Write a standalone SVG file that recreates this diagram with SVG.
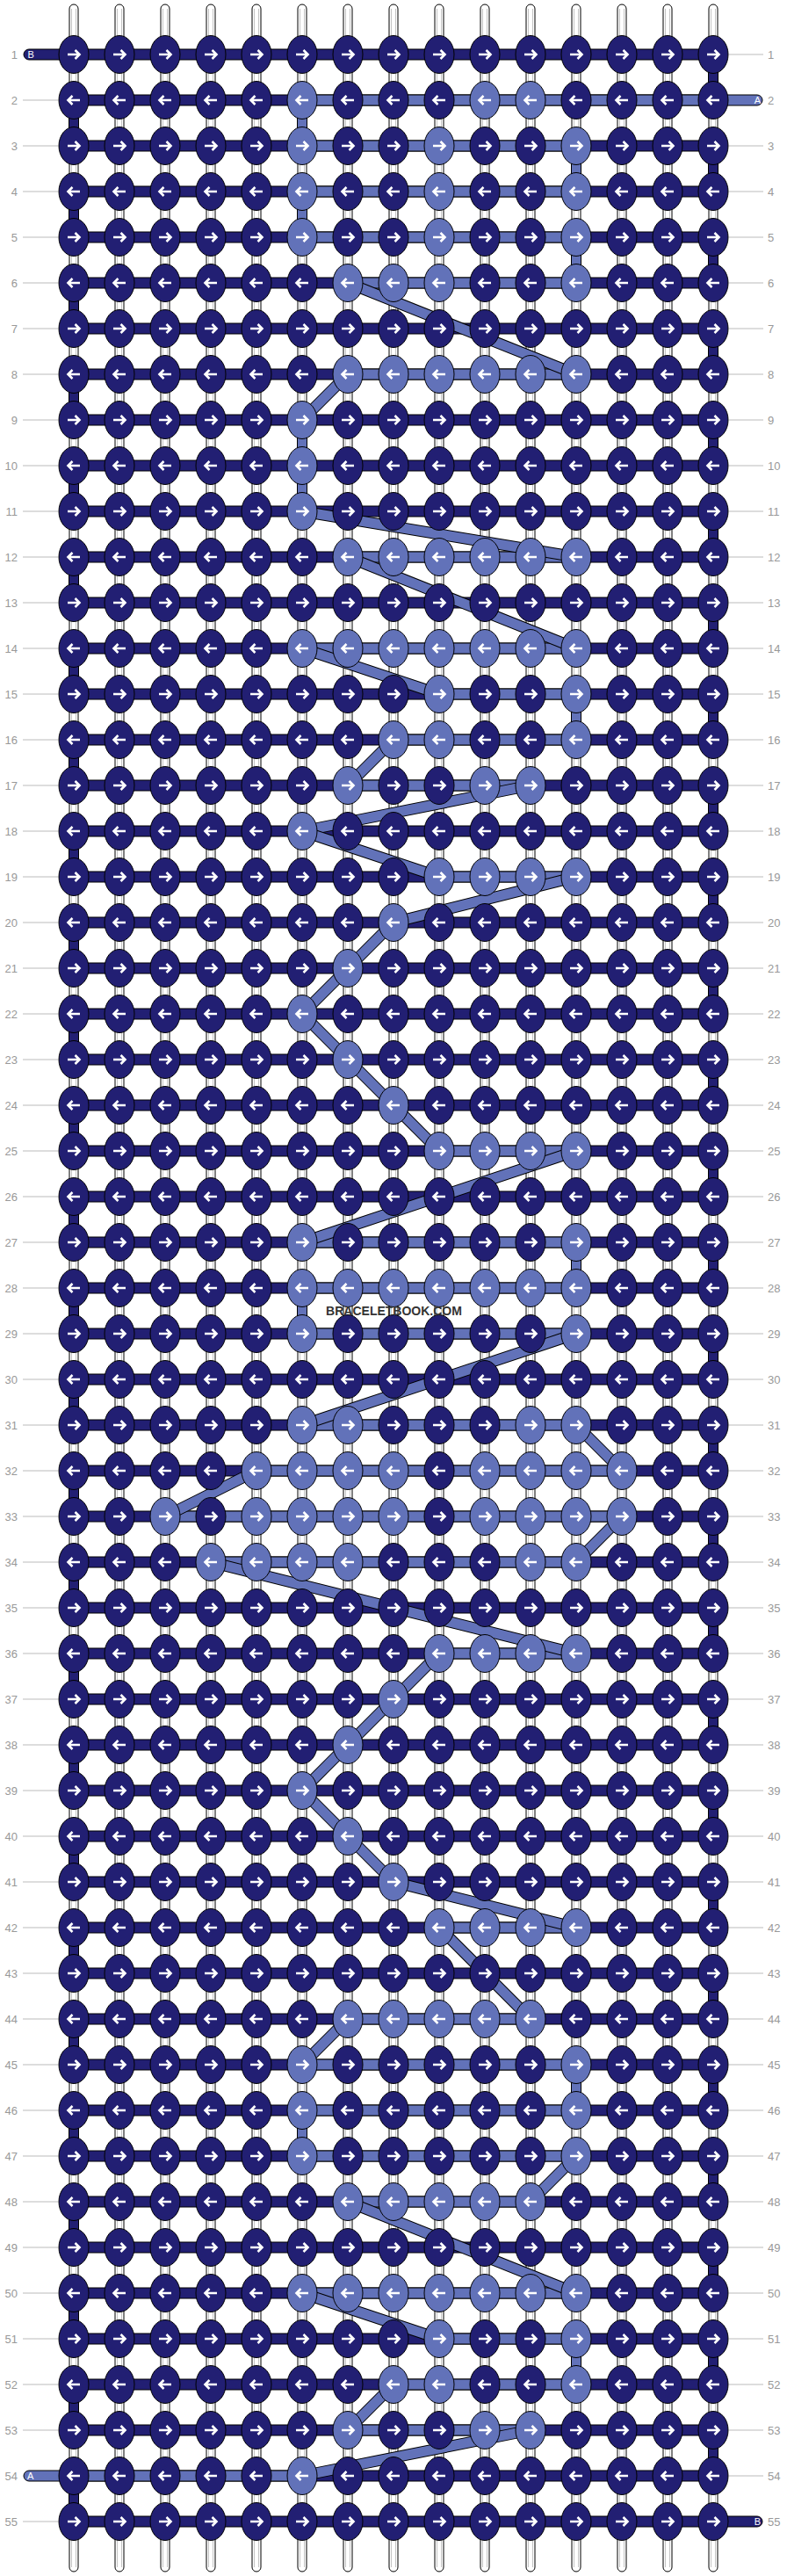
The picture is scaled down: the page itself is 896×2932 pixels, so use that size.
<svg xmlns="http://www.w3.org/2000/svg" width="896" height="2932" viewBox="0 0 896 2932">
<style>
.st{fill:#fff;stroke:#000;stroke-width:1}
.sg{fill:none;stroke:#c4c4c4;stroke-width:1}
.hd{fill:#221f73;stroke:#000;stroke-width:1}
.hl{fill:#6272b9;stroke:#000;stroke-width:1}
.vo{stroke:#000;stroke-width:12;stroke-dasharray:52 52}
.vd{stroke:#221f73;stroke-width:10;stroke-dasharray:52 52}
.do{stroke:#000;stroke-width:13}
.di{stroke:#6272b9;stroke-width:11}
.kd{fill:#221f73;stroke:#000;stroke-width:1}
.kl{fill:#6272b9;stroke:#000;stroke-width:1}
.ar{fill:none;stroke:#fff;stroke-width:2.6}
.lb{font-family:"Liberation Sans",Arial,sans-serif;font-size:13px;fill:#999}
.le{text-anchor:end}
.ll{fill:none;stroke:#bbb;stroke-width:1}
.pt{font-family:"Liberation Sans",Arial,sans-serif;font-size:11px;fill:#fff}
.wm{font-family:"Liberation Sans",Arial,sans-serif;font-size:14px;font-weight:bold;fill:#333;text-anchor:middle}
</style>
<defs>
<g id="dr"><ellipse class="kd" rx="17" ry="21.5"/><path class="ar" d="M-7,0H6.5M1.5,-5L6.5,0L1.5,5"/></g>
<g id="dl"><ellipse class="kd" rx="17" ry="21.5"/><path class="ar" d="M7,0H-6.5M-1.5,-5L-6.5,0L-1.5,5"/></g>
<g id="lr"><ellipse class="kl" rx="17" ry="21.5"/><path class="ar" d="M-7,0H6.5M1.5,-5L6.5,0L1.5,5"/></g>
<g id="ll"><ellipse class="kl" rx="17" ry="21.5"/><path class="ar" d="M7,0H-6.5M-1.5,-5L-6.5,0L-1.5,5"/></g>
</defs>
<rect width="896" height="2932" fill="#fff"/>
<g id="strings">
<rect class="st" x="79" y="5" width="10" height="2922" rx="5"/><rect class="st" x="131" y="5" width="10" height="2922" rx="5"/><rect class="st" x="183" y="5" width="10" height="2922" rx="5"/><rect class="st" x="235" y="5" width="10" height="2922" rx="5"/><rect class="st" x="287" y="5" width="10" height="2922" rx="5"/><rect class="st" x="339" y="5" width="10" height="2922" rx="5"/><rect class="st" x="391" y="5" width="10" height="2922" rx="5"/><rect class="st" x="443" y="5" width="10" height="2922" rx="5"/><rect class="st" x="495" y="5" width="10" height="2922" rx="5"/><rect class="st" x="547" y="5" width="10" height="2922" rx="5"/><rect class="st" x="599" y="5" width="10" height="2922" rx="5"/><rect class="st" x="651" y="5" width="10" height="2922" rx="5"/><rect class="st" x="703" y="5" width="10" height="2922" rx="5"/><rect class="st" x="755" y="5" width="10" height="2922" rx="5"/><rect class="st" x="807" y="5" width="10" height="2922" rx="5"/>
<path class="sg" d="M81.5,10V2922M86.5,10V2922M133.5,10V2922M138.5,10V2922M185.5,10V2922M190.5,10V2922M237.5,10V2922M242.5,10V2922M289.5,10V2922M294.5,10V2922M341.5,10V2922M346.5,10V2922M393.5,10V2922M398.5,10V2922M445.5,10V2922M450.5,10V2922M497.5,10V2922M502.5,10V2922M549.5,10V2922M554.5,10V2922M601.5,10V2922M606.5,10V2922M653.5,10V2922M658.5,10V2922M705.5,10V2922M710.5,10V2922M757.5,10V2922M762.5,10V2922M809.5,10V2922M814.5,10V2922"/>
</g>
<g id="connectors">
<g id="strand-B-rows">
<rect class="hd" x="27" y="56" width="785" height="12" rx="6"/>
<rect class="hd" x="84" y="108" width="728" height="12"/><rect class="hd" x="84" y="160" width="728" height="12"/><rect class="hd" x="84" y="212" width="728" height="12"/><rect class="hd" x="84" y="264" width="728" height="12"/><rect class="hd" x="84" y="316" width="728" height="12"/><rect class="hd" x="84" y="368" width="728" height="12"/><rect class="hd" x="84" y="420" width="728" height="12"/><rect class="hd" x="84" y="472" width="728" height="12"/><rect class="hd" x="84" y="524" width="728" height="12"/><rect class="hd" x="84" y="576" width="728" height="12"/><rect class="hd" x="84" y="628" width="728" height="12"/><rect class="hd" x="84" y="680" width="728" height="12"/><rect class="hd" x="84" y="732" width="728" height="12"/><rect class="hd" x="84" y="784" width="728" height="12"/><rect class="hd" x="84" y="836" width="728" height="12"/><rect class="hd" x="84" y="888" width="728" height="12"/><rect class="hd" x="84" y="940" width="728" height="12"/><rect class="hd" x="84" y="992" width="728" height="12"/><rect class="hd" x="84" y="1044" width="728" height="12"/><rect class="hd" x="84" y="1096" width="728" height="12"/><rect class="hd" x="84" y="1148" width="728" height="12"/><rect class="hd" x="84" y="1200" width="728" height="12"/><rect class="hd" x="84" y="1252" width="728" height="12"/><rect class="hd" x="84" y="1304" width="728" height="12"/><rect class="hd" x="84" y="1356" width="728" height="12"/><rect class="hd" x="84" y="1408" width="728" height="12"/><rect class="hd" x="84" y="1460" width="728" height="12"/><rect class="hd" x="84" y="1512" width="728" height="12"/><rect class="hd" x="84" y="1564" width="728" height="12"/><rect class="hd" x="84" y="1616" width="728" height="12"/><rect class="hd" x="84" y="1668" width="728" height="12"/><rect class="hd" x="84" y="1720" width="728" height="12"/><rect class="hd" x="84" y="1772" width="728" height="12"/><rect class="hd" x="84" y="1824" width="728" height="12"/><rect class="hd" x="84" y="1876" width="728" height="12"/><rect class="hd" x="84" y="1928" width="728" height="12"/><rect class="hd" x="84" y="1980" width="728" height="12"/><rect class="hd" x="84" y="2032" width="728" height="12"/><rect class="hd" x="84" y="2084" width="728" height="12"/><rect class="hd" x="84" y="2136" width="728" height="12"/><rect class="hd" x="84" y="2188" width="728" height="12"/><rect class="hd" x="84" y="2240" width="728" height="12"/><rect class="hd" x="84" y="2292" width="728" height="12"/><rect class="hd" x="84" y="2344" width="728" height="12"/><rect class="hd" x="84" y="2396" width="728" height="12"/><rect class="hd" x="84" y="2448" width="728" height="12"/><rect class="hd" x="84" y="2500" width="728" height="12"/><rect class="hd" x="84" y="2552" width="728" height="12"/><rect class="hd" x="84" y="2604" width="728" height="12"/><rect class="hd" x="84" y="2656" width="728" height="12"/><rect class="hd" x="84" y="2708" width="728" height="12"/><rect class="hd" x="84" y="2760" width="728" height="12"/><rect class="hd" x="84" y="2812" width="728" height="12"/>
<rect class="hd" x="84" y="2864" width="784" height="12" rx="6"/>
</g>
<g id="strand-A-rows">
<rect class="hl" x="344" y="108" width="524" height="12" rx="6"/>
<rect class="hl" x="344" y="160" width="312" height="12"/>
<rect class="hl" x="344" y="212" width="312" height="12"/>
<rect class="hl" x="344" y="264" width="312" height="12"/>
<rect class="hl" x="396" y="316" width="260" height="12"/>
<rect class="hl" x="396" y="420" width="260" height="12"/>
<rect class="hl" x="396" y="628" width="260" height="12"/>
<rect class="hl" x="344" y="732" width="312" height="12"/>
<rect class="hl" x="500" y="784" width="156" height="12"/>
<rect class="hl" x="448" y="836" width="208" height="12"/>
<rect class="hl" x="396" y="888" width="208" height="12"/>
<rect class="hl" x="500" y="992" width="156" height="12"/>
<rect class="hl" x="500" y="1304" width="156" height="12"/>
<rect class="hl" x="344" y="1408" width="312" height="12"/>
<rect class="hl" x="344" y="1460" width="312" height="12"/>
<rect class="hl" x="344" y="1512" width="312" height="12"/>
<rect class="hl" x="344" y="1616" width="312" height="12"/>
<rect class="hl" x="292" y="1668" width="416" height="12"/>
<rect class="hl" x="188" y="1720" width="520" height="12"/>
<rect class="hl" x="240" y="1772" width="416" height="12"/>
<rect class="hl" x="500" y="1876" width="156" height="12"/>
<rect class="hl" x="500" y="2188" width="156" height="12"/>
<rect class="hl" x="396" y="2292" width="208" height="12"/>
<rect class="hl" x="344" y="2344" width="312" height="12"/>
<rect class="hl" x="344" y="2396" width="312" height="12"/>
<rect class="hl" x="344" y="2448" width="312" height="12"/>
<rect class="hl" x="396" y="2500" width="208" height="12"/>
<rect class="hl" x="344" y="2604" width="312" height="12"/>
<rect class="hl" x="500" y="2656" width="156" height="12"/>
<rect class="hl" x="448" y="2708" width="208" height="12"/>
<rect class="hl" x="396" y="2760" width="208" height="12"/>
<rect class="hl" x="27" y="2812" width="317" height="12" rx="6"/>
</g>
<g id="strand-B-turns">
<line class="vo" x1="812" y1="62" x2="812" y2="2818"/><line class="vd" x1="812" y1="62" x2="812" y2="2818"/>
<line class="vo" x1="84" y1="114" x2="84" y2="2870"/><line class="vd" x1="84" y1="114" x2="84" y2="2870"/>
</g>
<g id="strand-A-turns">
<rect class="hl" x="338.5" y="114" width="11" height="52"/>
<rect class="hl" x="650.5" y="166" width="11" height="52"/>
<rect class="hl" x="338.5" y="218" width="11" height="52"/>
<rect class="hl" x="650.5" y="270" width="11" height="52"/>
<rect class="hl" x="338.5" y="478" width="11" height="52"/>
<rect class="hl" x="338.5" y="530" width="11" height="52"/>
<rect class="hl" x="650.5" y="790" width="11" height="52"/>
<rect class="hl" x="650.5" y="1414" width="11" height="52"/>
<rect class="hl" x="338.5" y="1466" width="11" height="52"/>
<rect class="hl" x="650.5" y="2350" width="11" height="52"/>
<rect class="hl" x="338.5" y="2402" width="11" height="52"/>
<rect class="hl" x="650.5" y="2662" width="11" height="52"/>
</g>
<g id="strand-A-jumps">
<line class="do" x1="396" y1="322" x2="656" y2="426"/><line class="di" x1="396" y1="322" x2="656" y2="426"/>
<line class="do" x1="396" y1="426" x2="344" y2="478"/><line class="di" x1="396" y1="426" x2="344" y2="478"/>
<line class="do" x1="344" y1="582" x2="656" y2="634"/><line class="di" x1="344" y1="582" x2="656" y2="634"/>
<line class="do" x1="396" y1="634" x2="656" y2="738"/><line class="di" x1="396" y1="634" x2="656" y2="738"/>
<line class="do" x1="344" y1="738" x2="500" y2="790"/><line class="di" x1="344" y1="738" x2="500" y2="790"/>
<line class="do" x1="448" y1="842" x2="396" y2="894"/><line class="di" x1="448" y1="842" x2="396" y2="894"/>
<line class="do" x1="604" y1="894" x2="344" y2="946"/><line class="di" x1="604" y1="894" x2="344" y2="946"/>
<line class="do" x1="344" y1="946" x2="500" y2="998"/><line class="di" x1="344" y1="946" x2="500" y2="998"/>
<line class="do" x1="656" y1="998" x2="448" y2="1050"/><line class="di" x1="656" y1="998" x2="448" y2="1050"/>
<line class="do" x1="448" y1="1050" x2="396" y2="1102"/><line class="di" x1="448" y1="1050" x2="396" y2="1102"/>
<line class="do" x1="396" y1="1102" x2="344" y2="1154"/><line class="di" x1="396" y1="1102" x2="344" y2="1154"/>
<line class="do" x1="344" y1="1154" x2="396" y2="1206"/><line class="di" x1="344" y1="1154" x2="396" y2="1206"/>
<line class="do" x1="396" y1="1206" x2="448" y2="1258"/><line class="di" x1="396" y1="1206" x2="448" y2="1258"/>
<line class="do" x1="448" y1="1258" x2="500" y2="1310"/><line class="di" x1="448" y1="1258" x2="500" y2="1310"/>
<line class="do" x1="656" y1="1310" x2="344" y2="1414"/><line class="di" x1="656" y1="1310" x2="344" y2="1414"/>
<line class="do" x1="656" y1="1518" x2="344" y2="1622"/><line class="di" x1="656" y1="1518" x2="344" y2="1622"/>
<line class="do" x1="656" y1="1622" x2="708" y2="1674"/><line class="di" x1="656" y1="1622" x2="708" y2="1674"/>
<line class="do" x1="292" y1="1674" x2="188" y2="1726"/><line class="di" x1="292" y1="1674" x2="188" y2="1726"/>
<line class="do" x1="708" y1="1726" x2="656" y2="1778"/><line class="di" x1="708" y1="1726" x2="656" y2="1778"/>
<line class="do" x1="240" y1="1778" x2="656" y2="1882"/><line class="di" x1="240" y1="1778" x2="656" y2="1882"/>
<line class="do" x1="500" y1="1882" x2="448" y2="1934"/><line class="di" x1="500" y1="1882" x2="448" y2="1934"/>
<line class="do" x1="448" y1="1934" x2="396" y2="1986"/><line class="di" x1="448" y1="1934" x2="396" y2="1986"/>
<line class="do" x1="396" y1="1986" x2="344" y2="2038"/><line class="di" x1="396" y1="1986" x2="344" y2="2038"/>
<line class="do" x1="344" y1="2038" x2="396" y2="2090"/><line class="di" x1="344" y1="2038" x2="396" y2="2090"/>
<line class="do" x1="396" y1="2090" x2="448" y2="2142"/><line class="di" x1="396" y1="2090" x2="448" y2="2142"/>
<line class="do" x1="448" y1="2142" x2="656" y2="2194"/><line class="di" x1="448" y1="2142" x2="656" y2="2194"/>
<line class="do" x1="500" y1="2194" x2="604" y2="2298"/><line class="di" x1="500" y1="2194" x2="604" y2="2298"/>
<line class="do" x1="396" y1="2298" x2="344" y2="2350"/><line class="di" x1="396" y1="2298" x2="344" y2="2350"/>
<line class="do" x1="656" y1="2454" x2="604" y2="2506"/><line class="di" x1="656" y1="2454" x2="604" y2="2506"/>
<line class="do" x1="396" y1="2506" x2="656" y2="2610"/><line class="di" x1="396" y1="2506" x2="656" y2="2610"/>
<line class="do" x1="344" y1="2610" x2="500" y2="2662"/><line class="di" x1="344" y1="2610" x2="500" y2="2662"/>
<line class="do" x1="448" y1="2714" x2="396" y2="2766"/><line class="di" x1="448" y1="2714" x2="396" y2="2766"/>
<line class="do" x1="604" y1="2766" x2="344" y2="2818"/><line class="di" x1="604" y1="2766" x2="344" y2="2818"/>
</g>
<text class="pt" x="31.5" y="66">B</text>
<text class="pt le" x="866" y="118">A</text>
<text class="pt" x="31" y="2822">A</text>
<text class="pt le" x="866" y="2874">B</text>
</g>
<g id="knots">
<g id="row1" transform="translate(0,62)"><path class="ll" d="M830,0H869"/><text class="lb le" x="20" y="4.5">1</text><text class="lb" x="874" y="4.5">1</text><use id="k1-1" href="#dr" x="84"/><use id="k1-2" href="#dr" x="136"/><use id="k1-3" href="#dr" x="188"/><use id="k1-4" href="#dr" x="240"/><use id="k1-5" href="#dr" x="292"/><use id="k1-6" href="#dr" x="344"/><use id="k1-7" href="#dr" x="396"/><use id="k1-8" href="#dr" x="448"/><use id="k1-9" href="#dr" x="500"/><use id="k1-10" href="#dr" x="552"/><use id="k1-11" href="#dr" x="604"/><use id="k1-12" href="#dr" x="656"/><use id="k1-13" href="#dr" x="708"/><use id="k1-14" href="#dr" x="760"/><use id="k1-15" href="#dr" x="812"/></g>
<g id="row2" transform="translate(0,114)"><path class="ll" d="M26,0H66"/><text class="lb le" x="20" y="4.5">2</text><text class="lb" x="874" y="4.5">2</text><use id="k2-1" href="#dl" x="84"/><use id="k2-2" href="#dl" x="136"/><use id="k2-3" href="#dl" x="188"/><use id="k2-4" href="#dl" x="240"/><use id="k2-5" href="#dl" x="292"/><use id="k2-6" href="#ll" x="344"/><use id="k2-7" href="#dl" x="396"/><use id="k2-8" href="#dl" x="448"/><use id="k2-9" href="#dl" x="500"/><use id="k2-10" href="#ll" x="552"/><use id="k2-11" href="#ll" x="604"/><use id="k2-12" href="#dl" x="656"/><use id="k2-13" href="#dl" x="708"/><use id="k2-14" href="#dl" x="760"/><use id="k2-15" href="#dl" x="812"/></g>
<g id="row3" transform="translate(0,166)"><path class="ll" d="M26,0H66M830,0H869"/><text class="lb le" x="20" y="4.5">3</text><text class="lb" x="874" y="4.5">3</text><use id="k3-1" href="#dr" x="84"/><use id="k3-2" href="#dr" x="136"/><use id="k3-3" href="#dr" x="188"/><use id="k3-4" href="#dr" x="240"/><use id="k3-5" href="#dr" x="292"/><use id="k3-6" href="#lr" x="344"/><use id="k3-7" href="#dr" x="396"/><use id="k3-8" href="#dr" x="448"/><use id="k3-9" href="#lr" x="500"/><use id="k3-10" href="#dr" x="552"/><use id="k3-11" href="#dr" x="604"/><use id="k3-12" href="#lr" x="656"/><use id="k3-13" href="#dr" x="708"/><use id="k3-14" href="#dr" x="760"/><use id="k3-15" href="#dr" x="812"/></g>
<g id="row4" transform="translate(0,218)"><path class="ll" d="M26,0H66M830,0H869"/><text class="lb le" x="20" y="4.5">4</text><text class="lb" x="874" y="4.5">4</text><use id="k4-1" href="#dl" x="84"/><use id="k4-2" href="#dl" x="136"/><use id="k4-3" href="#dl" x="188"/><use id="k4-4" href="#dl" x="240"/><use id="k4-5" href="#dl" x="292"/><use id="k4-6" href="#ll" x="344"/><use id="k4-7" href="#dl" x="396"/><use id="k4-8" href="#dl" x="448"/><use id="k4-9" href="#ll" x="500"/><use id="k4-10" href="#dl" x="552"/><use id="k4-11" href="#dl" x="604"/><use id="k4-12" href="#ll" x="656"/><use id="k4-13" href="#dl" x="708"/><use id="k4-14" href="#dl" x="760"/><use id="k4-15" href="#dl" x="812"/></g>
<g id="row5" transform="translate(0,270)"><path class="ll" d="M26,0H66M830,0H869"/><text class="lb le" x="20" y="4.5">5</text><text class="lb" x="874" y="4.5">5</text><use id="k5-1" href="#dr" x="84"/><use id="k5-2" href="#dr" x="136"/><use id="k5-3" href="#dr" x="188"/><use id="k5-4" href="#dr" x="240"/><use id="k5-5" href="#dr" x="292"/><use id="k5-6" href="#lr" x="344"/><use id="k5-7" href="#dr" x="396"/><use id="k5-8" href="#dr" x="448"/><use id="k5-9" href="#lr" x="500"/><use id="k5-10" href="#dr" x="552"/><use id="k5-11" href="#dr" x="604"/><use id="k5-12" href="#lr" x="656"/><use id="k5-13" href="#dr" x="708"/><use id="k5-14" href="#dr" x="760"/><use id="k5-15" href="#dr" x="812"/></g>
<g id="row6" transform="translate(0,322)"><path class="ll" d="M26,0H66M830,0H869"/><text class="lb le" x="20" y="4.5">6</text><text class="lb" x="874" y="4.5">6</text><use id="k6-1" href="#dl" x="84"/><use id="k6-2" href="#dl" x="136"/><use id="k6-3" href="#dl" x="188"/><use id="k6-4" href="#dl" x="240"/><use id="k6-5" href="#dl" x="292"/><use id="k6-6" href="#dl" x="344"/><use id="k6-7" href="#ll" x="396"/><use id="k6-8" href="#ll" x="448"/><use id="k6-9" href="#ll" x="500"/><use id="k6-10" href="#dl" x="552"/><use id="k6-11" href="#dl" x="604"/><use id="k6-12" href="#ll" x="656"/><use id="k6-13" href="#dl" x="708"/><use id="k6-14" href="#dl" x="760"/><use id="k6-15" href="#dl" x="812"/></g>
<g id="row7" transform="translate(0,374)"><path class="ll" d="M26,0H66M830,0H869"/><text class="lb le" x="20" y="4.5">7</text><text class="lb" x="874" y="4.5">7</text><use id="k7-1" href="#dr" x="84"/><use id="k7-2" href="#dr" x="136"/><use id="k7-3" href="#dr" x="188"/><use id="k7-4" href="#dr" x="240"/><use id="k7-5" href="#dr" x="292"/><use id="k7-6" href="#dr" x="344"/><use id="k7-7" href="#dr" x="396"/><use id="k7-8" href="#dr" x="448"/><use id="k7-9" href="#dr" x="500"/><use id="k7-10" href="#dr" x="552"/><use id="k7-11" href="#dr" x="604"/><use id="k7-12" href="#dr" x="656"/><use id="k7-13" href="#dr" x="708"/><use id="k7-14" href="#dr" x="760"/><use id="k7-15" href="#dr" x="812"/></g>
<g id="row8" transform="translate(0,426)"><path class="ll" d="M26,0H66M830,0H869"/><text class="lb le" x="20" y="4.5">8</text><text class="lb" x="874" y="4.5">8</text><use id="k8-1" href="#dl" x="84"/><use id="k8-2" href="#dl" x="136"/><use id="k8-3" href="#dl" x="188"/><use id="k8-4" href="#dl" x="240"/><use id="k8-5" href="#dl" x="292"/><use id="k8-6" href="#dl" x="344"/><use id="k8-7" href="#ll" x="396"/><use id="k8-8" href="#ll" x="448"/><use id="k8-9" href="#ll" x="500"/><use id="k8-10" href="#ll" x="552"/><use id="k8-11" href="#ll" x="604"/><use id="k8-12" href="#ll" x="656"/><use id="k8-13" href="#dl" x="708"/><use id="k8-14" href="#dl" x="760"/><use id="k8-15" href="#dl" x="812"/></g>
<g id="row9" transform="translate(0,478)"><path class="ll" d="M26,0H66M830,0H869"/><text class="lb le" x="20" y="4.5">9</text><text class="lb" x="874" y="4.5">9</text><use id="k9-1" href="#dr" x="84"/><use id="k9-2" href="#dr" x="136"/><use id="k9-3" href="#dr" x="188"/><use id="k9-4" href="#dr" x="240"/><use id="k9-5" href="#dr" x="292"/><use id="k9-6" href="#lr" x="344"/><use id="k9-7" href="#dr" x="396"/><use id="k9-8" href="#dr" x="448"/><use id="k9-9" href="#dr" x="500"/><use id="k9-10" href="#dr" x="552"/><use id="k9-11" href="#dr" x="604"/><use id="k9-12" href="#dr" x="656"/><use id="k9-13" href="#dr" x="708"/><use id="k9-14" href="#dr" x="760"/><use id="k9-15" href="#dr" x="812"/></g>
<g id="row10" transform="translate(0,530)"><path class="ll" d="M26,0H66M830,0H869"/><text class="lb le" x="20" y="4.5">10</text><text class="lb" x="874" y="4.5">10</text><use id="k10-1" href="#dl" x="84"/><use id="k10-2" href="#dl" x="136"/><use id="k10-3" href="#dl" x="188"/><use id="k10-4" href="#dl" x="240"/><use id="k10-5" href="#dl" x="292"/><use id="k10-6" href="#ll" x="344"/><use id="k10-7" href="#dl" x="396"/><use id="k10-8" href="#dl" x="448"/><use id="k10-9" href="#dl" x="500"/><use id="k10-10" href="#dl" x="552"/><use id="k10-11" href="#dl" x="604"/><use id="k10-12" href="#dl" x="656"/><use id="k10-13" href="#dl" x="708"/><use id="k10-14" href="#dl" x="760"/><use id="k10-15" href="#dl" x="812"/></g>
<g id="row11" transform="translate(0,582)"><path class="ll" d="M26,0H66M830,0H869"/><text class="lb le" x="20" y="4.5">11</text><text class="lb" x="874" y="4.5">11</text><use id="k11-1" href="#dr" x="84"/><use id="k11-2" href="#dr" x="136"/><use id="k11-3" href="#dr" x="188"/><use id="k11-4" href="#dr" x="240"/><use id="k11-5" href="#dr" x="292"/><use id="k11-6" href="#lr" x="344"/><use id="k11-7" href="#dr" x="396"/><use id="k11-8" href="#dr" x="448"/><use id="k11-9" href="#dr" x="500"/><use id="k11-10" href="#dr" x="552"/><use id="k11-11" href="#dr" x="604"/><use id="k11-12" href="#dr" x="656"/><use id="k11-13" href="#dr" x="708"/><use id="k11-14" href="#dr" x="760"/><use id="k11-15" href="#dr" x="812"/></g>
<g id="row12" transform="translate(0,634)"><path class="ll" d="M26,0H66M830,0H869"/><text class="lb le" x="20" y="4.5">12</text><text class="lb" x="874" y="4.5">12</text><use id="k12-1" href="#dl" x="84"/><use id="k12-2" href="#dl" x="136"/><use id="k12-3" href="#dl" x="188"/><use id="k12-4" href="#dl" x="240"/><use id="k12-5" href="#dl" x="292"/><use id="k12-6" href="#dl" x="344"/><use id="k12-7" href="#ll" x="396"/><use id="k12-8" href="#ll" x="448"/><use id="k12-9" href="#ll" x="500"/><use id="k12-10" href="#ll" x="552"/><use id="k12-11" href="#ll" x="604"/><use id="k12-12" href="#ll" x="656"/><use id="k12-13" href="#dl" x="708"/><use id="k12-14" href="#dl" x="760"/><use id="k12-15" href="#dl" x="812"/></g>
<g id="row13" transform="translate(0,686)"><path class="ll" d="M26,0H66M830,0H869"/><text class="lb le" x="20" y="4.5">13</text><text class="lb" x="874" y="4.5">13</text><use id="k13-1" href="#dr" x="84"/><use id="k13-2" href="#dr" x="136"/><use id="k13-3" href="#dr" x="188"/><use id="k13-4" href="#dr" x="240"/><use id="k13-5" href="#dr" x="292"/><use id="k13-6" href="#dr" x="344"/><use id="k13-7" href="#dr" x="396"/><use id="k13-8" href="#dr" x="448"/><use id="k13-9" href="#dr" x="500"/><use id="k13-10" href="#dr" x="552"/><use id="k13-11" href="#dr" x="604"/><use id="k13-12" href="#dr" x="656"/><use id="k13-13" href="#dr" x="708"/><use id="k13-14" href="#dr" x="760"/><use id="k13-15" href="#dr" x="812"/></g>
<g id="row14" transform="translate(0,738)"><path class="ll" d="M26,0H66M830,0H869"/><text class="lb le" x="20" y="4.5">14</text><text class="lb" x="874" y="4.5">14</text><use id="k14-1" href="#dl" x="84"/><use id="k14-2" href="#dl" x="136"/><use id="k14-3" href="#dl" x="188"/><use id="k14-4" href="#dl" x="240"/><use id="k14-5" href="#dl" x="292"/><use id="k14-6" href="#ll" x="344"/><use id="k14-7" href="#ll" x="396"/><use id="k14-8" href="#ll" x="448"/><use id="k14-9" href="#ll" x="500"/><use id="k14-10" href="#ll" x="552"/><use id="k14-11" href="#ll" x="604"/><use id="k14-12" href="#ll" x="656"/><use id="k14-13" href="#dl" x="708"/><use id="k14-14" href="#dl" x="760"/><use id="k14-15" href="#dl" x="812"/></g>
<g id="row15" transform="translate(0,790)"><path class="ll" d="M26,0H66M830,0H869"/><text class="lb le" x="20" y="4.5">15</text><text class="lb" x="874" y="4.5">15</text><use id="k15-1" href="#dr" x="84"/><use id="k15-2" href="#dr" x="136"/><use id="k15-3" href="#dr" x="188"/><use id="k15-4" href="#dr" x="240"/><use id="k15-5" href="#dr" x="292"/><use id="k15-6" href="#dr" x="344"/><use id="k15-7" href="#dr" x="396"/><use id="k15-8" href="#dr" x="448"/><use id="k15-9" href="#lr" x="500"/><use id="k15-10" href="#dr" x="552"/><use id="k15-11" href="#dr" x="604"/><use id="k15-12" href="#lr" x="656"/><use id="k15-13" href="#dr" x="708"/><use id="k15-14" href="#dr" x="760"/><use id="k15-15" href="#dr" x="812"/></g>
<g id="row16" transform="translate(0,842)"><path class="ll" d="M26,0H66M830,0H869"/><text class="lb le" x="20" y="4.5">16</text><text class="lb" x="874" y="4.5">16</text><use id="k16-1" href="#dl" x="84"/><use id="k16-2" href="#dl" x="136"/><use id="k16-3" href="#dl" x="188"/><use id="k16-4" href="#dl" x="240"/><use id="k16-5" href="#dl" x="292"/><use id="k16-6" href="#dl" x="344"/><use id="k16-7" href="#dl" x="396"/><use id="k16-8" href="#ll" x="448"/><use id="k16-9" href="#ll" x="500"/><use id="k16-10" href="#dl" x="552"/><use id="k16-11" href="#dl" x="604"/><use id="k16-12" href="#ll" x="656"/><use id="k16-13" href="#dl" x="708"/><use id="k16-14" href="#dl" x="760"/><use id="k16-15" href="#dl" x="812"/></g>
<g id="row17" transform="translate(0,894)"><path class="ll" d="M26,0H66M830,0H869"/><text class="lb le" x="20" y="4.5">17</text><text class="lb" x="874" y="4.5">17</text><use id="k17-1" href="#dr" x="84"/><use id="k17-2" href="#dr" x="136"/><use id="k17-3" href="#dr" x="188"/><use id="k17-4" href="#dr" x="240"/><use id="k17-5" href="#dr" x="292"/><use id="k17-6" href="#dr" x="344"/><use id="k17-7" href="#lr" x="396"/><use id="k17-8" href="#dr" x="448"/><use id="k17-9" href="#dr" x="500"/><use id="k17-10" href="#lr" x="552"/><use id="k17-11" href="#lr" x="604"/><use id="k17-12" href="#dr" x="656"/><use id="k17-13" href="#dr" x="708"/><use id="k17-14" href="#dr" x="760"/><use id="k17-15" href="#dr" x="812"/></g>
<g id="row18" transform="translate(0,946)"><path class="ll" d="M26,0H66M830,0H869"/><text class="lb le" x="20" y="4.5">18</text><text class="lb" x="874" y="4.5">18</text><use id="k18-1" href="#dl" x="84"/><use id="k18-2" href="#dl" x="136"/><use id="k18-3" href="#dl" x="188"/><use id="k18-4" href="#dl" x="240"/><use id="k18-5" href="#dl" x="292"/><use id="k18-6" href="#ll" x="344"/><use id="k18-7" href="#dl" x="396"/><use id="k18-8" href="#dl" x="448"/><use id="k18-9" href="#dl" x="500"/><use id="k18-10" href="#dl" x="552"/><use id="k18-11" href="#dl" x="604"/><use id="k18-12" href="#dl" x="656"/><use id="k18-13" href="#dl" x="708"/><use id="k18-14" href="#dl" x="760"/><use id="k18-15" href="#dl" x="812"/></g>
<g id="row19" transform="translate(0,998)"><path class="ll" d="M26,0H66M830,0H869"/><text class="lb le" x="20" y="4.5">19</text><text class="lb" x="874" y="4.5">19</text><use id="k19-1" href="#dr" x="84"/><use id="k19-2" href="#dr" x="136"/><use id="k19-3" href="#dr" x="188"/><use id="k19-4" href="#dr" x="240"/><use id="k19-5" href="#dr" x="292"/><use id="k19-6" href="#dr" x="344"/><use id="k19-7" href="#dr" x="396"/><use id="k19-8" href="#dr" x="448"/><use id="k19-9" href="#lr" x="500"/><use id="k19-10" href="#lr" x="552"/><use id="k19-11" href="#lr" x="604"/><use id="k19-12" href="#lr" x="656"/><use id="k19-13" href="#dr" x="708"/><use id="k19-14" href="#dr" x="760"/><use id="k19-15" href="#dr" x="812"/></g>
<g id="row20" transform="translate(0,1050)"><path class="ll" d="M26,0H66M830,0H869"/><text class="lb le" x="20" y="4.5">20</text><text class="lb" x="874" y="4.5">20</text><use id="k20-1" href="#dl" x="84"/><use id="k20-2" href="#dl" x="136"/><use id="k20-3" href="#dl" x="188"/><use id="k20-4" href="#dl" x="240"/><use id="k20-5" href="#dl" x="292"/><use id="k20-6" href="#dl" x="344"/><use id="k20-7" href="#dl" x="396"/><use id="k20-8" href="#ll" x="448"/><use id="k20-9" href="#dl" x="500"/><use id="k20-10" href="#dl" x="552"/><use id="k20-11" href="#dl" x="604"/><use id="k20-12" href="#dl" x="656"/><use id="k20-13" href="#dl" x="708"/><use id="k20-14" href="#dl" x="760"/><use id="k20-15" href="#dl" x="812"/></g>
<g id="row21" transform="translate(0,1102)"><path class="ll" d="M26,0H66M830,0H869"/><text class="lb le" x="20" y="4.5">21</text><text class="lb" x="874" y="4.5">21</text><use id="k21-1" href="#dr" x="84"/><use id="k21-2" href="#dr" x="136"/><use id="k21-3" href="#dr" x="188"/><use id="k21-4" href="#dr" x="240"/><use id="k21-5" href="#dr" x="292"/><use id="k21-6" href="#dr" x="344"/><use id="k21-7" href="#lr" x="396"/><use id="k21-8" href="#dr" x="448"/><use id="k21-9" href="#dr" x="500"/><use id="k21-10" href="#dr" x="552"/><use id="k21-11" href="#dr" x="604"/><use id="k21-12" href="#dr" x="656"/><use id="k21-13" href="#dr" x="708"/><use id="k21-14" href="#dr" x="760"/><use id="k21-15" href="#dr" x="812"/></g>
<g id="row22" transform="translate(0,1154)"><path class="ll" d="M26,0H66M830,0H869"/><text class="lb le" x="20" y="4.5">22</text><text class="lb" x="874" y="4.5">22</text><use id="k22-1" href="#dl" x="84"/><use id="k22-2" href="#dl" x="136"/><use id="k22-3" href="#dl" x="188"/><use id="k22-4" href="#dl" x="240"/><use id="k22-5" href="#dl" x="292"/><use id="k22-6" href="#ll" x="344"/><use id="k22-7" href="#dl" x="396"/><use id="k22-8" href="#dl" x="448"/><use id="k22-9" href="#dl" x="500"/><use id="k22-10" href="#dl" x="552"/><use id="k22-11" href="#dl" x="604"/><use id="k22-12" href="#dl" x="656"/><use id="k22-13" href="#dl" x="708"/><use id="k22-14" href="#dl" x="760"/><use id="k22-15" href="#dl" x="812"/></g>
<g id="row23" transform="translate(0,1206)"><path class="ll" d="M26,0H66M830,0H869"/><text class="lb le" x="20" y="4.5">23</text><text class="lb" x="874" y="4.5">23</text><use id="k23-1" href="#dr" x="84"/><use id="k23-2" href="#dr" x="136"/><use id="k23-3" href="#dr" x="188"/><use id="k23-4" href="#dr" x="240"/><use id="k23-5" href="#dr" x="292"/><use id="k23-6" href="#dr" x="344"/><use id="k23-7" href="#lr" x="396"/><use id="k23-8" href="#dr" x="448"/><use id="k23-9" href="#dr" x="500"/><use id="k23-10" href="#dr" x="552"/><use id="k23-11" href="#dr" x="604"/><use id="k23-12" href="#dr" x="656"/><use id="k23-13" href="#dr" x="708"/><use id="k23-14" href="#dr" x="760"/><use id="k23-15" href="#dr" x="812"/></g>
<g id="row24" transform="translate(0,1258)"><path class="ll" d="M26,0H66M830,0H869"/><text class="lb le" x="20" y="4.5">24</text><text class="lb" x="874" y="4.5">24</text><use id="k24-1" href="#dl" x="84"/><use id="k24-2" href="#dl" x="136"/><use id="k24-3" href="#dl" x="188"/><use id="k24-4" href="#dl" x="240"/><use id="k24-5" href="#dl" x="292"/><use id="k24-6" href="#dl" x="344"/><use id="k24-7" href="#dl" x="396"/><use id="k24-8" href="#ll" x="448"/><use id="k24-9" href="#dl" x="500"/><use id="k24-10" href="#dl" x="552"/><use id="k24-11" href="#dl" x="604"/><use id="k24-12" href="#dl" x="656"/><use id="k24-13" href="#dl" x="708"/><use id="k24-14" href="#dl" x="760"/><use id="k24-15" href="#dl" x="812"/></g>
<g id="row25" transform="translate(0,1310)"><path class="ll" d="M26,0H66M830,0H869"/><text class="lb le" x="20" y="4.5">25</text><text class="lb" x="874" y="4.5">25</text><use id="k25-1" href="#dr" x="84"/><use id="k25-2" href="#dr" x="136"/><use id="k25-3" href="#dr" x="188"/><use id="k25-4" href="#dr" x="240"/><use id="k25-5" href="#dr" x="292"/><use id="k25-6" href="#dr" x="344"/><use id="k25-7" href="#dr" x="396"/><use id="k25-8" href="#dr" x="448"/><use id="k25-9" href="#lr" x="500"/><use id="k25-10" href="#lr" x="552"/><use id="k25-11" href="#lr" x="604"/><use id="k25-12" href="#lr" x="656"/><use id="k25-13" href="#dr" x="708"/><use id="k25-14" href="#dr" x="760"/><use id="k25-15" href="#dr" x="812"/></g>
<g id="row26" transform="translate(0,1362)"><path class="ll" d="M26,0H66M830,0H869"/><text class="lb le" x="20" y="4.5">26</text><text class="lb" x="874" y="4.5">26</text><use id="k26-1" href="#dl" x="84"/><use id="k26-2" href="#dl" x="136"/><use id="k26-3" href="#dl" x="188"/><use id="k26-4" href="#dl" x="240"/><use id="k26-5" href="#dl" x="292"/><use id="k26-6" href="#dl" x="344"/><use id="k26-7" href="#dl" x="396"/><use id="k26-8" href="#dl" x="448"/><use id="k26-9" href="#dl" x="500"/><use id="k26-10" href="#dl" x="552"/><use id="k26-11" href="#dl" x="604"/><use id="k26-12" href="#dl" x="656"/><use id="k26-13" href="#dl" x="708"/><use id="k26-14" href="#dl" x="760"/><use id="k26-15" href="#dl" x="812"/></g>
<g id="row27" transform="translate(0,1414)"><path class="ll" d="M26,0H66M830,0H869"/><text class="lb le" x="20" y="4.5">27</text><text class="lb" x="874" y="4.5">27</text><use id="k27-1" href="#dr" x="84"/><use id="k27-2" href="#dr" x="136"/><use id="k27-3" href="#dr" x="188"/><use id="k27-4" href="#dr" x="240"/><use id="k27-5" href="#dr" x="292"/><use id="k27-6" href="#lr" x="344"/><use id="k27-7" href="#dr" x="396"/><use id="k27-8" href="#dr" x="448"/><use id="k27-9" href="#dr" x="500"/><use id="k27-10" href="#dr" x="552"/><use id="k27-11" href="#dr" x="604"/><use id="k27-12" href="#lr" x="656"/><use id="k27-13" href="#dr" x="708"/><use id="k27-14" href="#dr" x="760"/><use id="k27-15" href="#dr" x="812"/></g>
<g id="row28" transform="translate(0,1466)"><path class="ll" d="M26,0H66M830,0H869"/><text class="lb le" x="20" y="4.5">28</text><text class="lb" x="874" y="4.5">28</text><use id="k28-1" href="#dl" x="84"/><use id="k28-2" href="#dl" x="136"/><use id="k28-3" href="#dl" x="188"/><use id="k28-4" href="#dl" x="240"/><use id="k28-5" href="#dl" x="292"/><use id="k28-6" href="#ll" x="344"/><use id="k28-7" href="#ll" x="396"/><use id="k28-8" href="#ll" x="448"/><use id="k28-9" href="#ll" x="500"/><use id="k28-10" href="#ll" x="552"/><use id="k28-11" href="#ll" x="604"/><use id="k28-12" href="#ll" x="656"/><use id="k28-13" href="#dl" x="708"/><use id="k28-14" href="#dl" x="760"/><use id="k28-15" href="#dl" x="812"/></g>
<g id="row29" transform="translate(0,1518)"><path class="ll" d="M26,0H66M830,0H869"/><text class="lb le" x="20" y="4.5">29</text><text class="lb" x="874" y="4.5">29</text><use id="k29-1" href="#dr" x="84"/><use id="k29-2" href="#dr" x="136"/><use id="k29-3" href="#dr" x="188"/><use id="k29-4" href="#dr" x="240"/><use id="k29-5" href="#dr" x="292"/><use id="k29-6" href="#lr" x="344"/><use id="k29-7" href="#dr" x="396"/><use id="k29-8" href="#dr" x="448"/><use id="k29-9" href="#dr" x="500"/><use id="k29-10" href="#dr" x="552"/><use id="k29-11" href="#dr" x="604"/><use id="k29-12" href="#lr" x="656"/><use id="k29-13" href="#dr" x="708"/><use id="k29-14" href="#dr" x="760"/><use id="k29-15" href="#dr" x="812"/></g>
<g id="row30" transform="translate(0,1570)"><path class="ll" d="M26,0H66M830,0H869"/><text class="lb le" x="20" y="4.5">30</text><text class="lb" x="874" y="4.5">30</text><use id="k30-1" href="#dl" x="84"/><use id="k30-2" href="#dl" x="136"/><use id="k30-3" href="#dl" x="188"/><use id="k30-4" href="#dl" x="240"/><use id="k30-5" href="#dl" x="292"/><use id="k30-6" href="#dl" x="344"/><use id="k30-7" href="#dl" x="396"/><use id="k30-8" href="#dl" x="448"/><use id="k30-9" href="#dl" x="500"/><use id="k30-10" href="#dl" x="552"/><use id="k30-11" href="#dl" x="604"/><use id="k30-12" href="#dl" x="656"/><use id="k30-13" href="#dl" x="708"/><use id="k30-14" href="#dl" x="760"/><use id="k30-15" href="#dl" x="812"/></g>
<g id="row31" transform="translate(0,1622)"><path class="ll" d="M26,0H66M830,0H869"/><text class="lb le" x="20" y="4.5">31</text><text class="lb" x="874" y="4.5">31</text><use id="k31-1" href="#dr" x="84"/><use id="k31-2" href="#dr" x="136"/><use id="k31-3" href="#dr" x="188"/><use id="k31-4" href="#dr" x="240"/><use id="k31-5" href="#dr" x="292"/><use id="k31-6" href="#lr" x="344"/><use id="k31-7" href="#lr" x="396"/><use id="k31-8" href="#dr" x="448"/><use id="k31-9" href="#dr" x="500"/><use id="k31-10" href="#dr" x="552"/><use id="k31-11" href="#lr" x="604"/><use id="k31-12" href="#lr" x="656"/><use id="k31-13" href="#dr" x="708"/><use id="k31-14" href="#dr" x="760"/><use id="k31-15" href="#dr" x="812"/></g>
<g id="row32" transform="translate(0,1674)"><path class="ll" d="M26,0H66M830,0H869"/><text class="lb le" x="20" y="4.5">32</text><text class="lb" x="874" y="4.5">32</text><use id="k32-1" href="#dl" x="84"/><use id="k32-2" href="#dl" x="136"/><use id="k32-3" href="#dl" x="188"/><use id="k32-4" href="#dl" x="240"/><use id="k32-5" href="#ll" x="292"/><use id="k32-6" href="#ll" x="344"/><use id="k32-7" href="#ll" x="396"/><use id="k32-8" href="#ll" x="448"/><use id="k32-9" href="#dl" x="500"/><use id="k32-10" href="#ll" x="552"/><use id="k32-11" href="#ll" x="604"/><use id="k32-12" href="#ll" x="656"/><use id="k32-13" href="#ll" x="708"/><use id="k32-14" href="#dl" x="760"/><use id="k32-15" href="#dl" x="812"/></g>
<g id="row33" transform="translate(0,1726)"><path class="ll" d="M26,0H66M830,0H869"/><text class="lb le" x="20" y="4.5">33</text><text class="lb" x="874" y="4.5">33</text><use id="k33-1" href="#dr" x="84"/><use id="k33-2" href="#dr" x="136"/><use id="k33-3" href="#lr" x="188"/><use id="k33-4" href="#dr" x="240"/><use id="k33-5" href="#lr" x="292"/><use id="k33-6" href="#lr" x="344"/><use id="k33-7" href="#lr" x="396"/><use id="k33-8" href="#lr" x="448"/><use id="k33-9" href="#dr" x="500"/><use id="k33-10" href="#lr" x="552"/><use id="k33-11" href="#lr" x="604"/><use id="k33-12" href="#lr" x="656"/><use id="k33-13" href="#lr" x="708"/><use id="k33-14" href="#dr" x="760"/><use id="k33-15" href="#dr" x="812"/></g>
<g id="row34" transform="translate(0,1778)"><path class="ll" d="M26,0H66M830,0H869"/><text class="lb le" x="20" y="4.5">34</text><text class="lb" x="874" y="4.5">34</text><use id="k34-1" href="#dl" x="84"/><use id="k34-2" href="#dl" x="136"/><use id="k34-3" href="#dl" x="188"/><use id="k34-4" href="#ll" x="240"/><use id="k34-5" href="#ll" x="292"/><use id="k34-6" href="#ll" x="344"/><use id="k34-7" href="#ll" x="396"/><use id="k34-8" href="#dl" x="448"/><use id="k34-9" href="#dl" x="500"/><use id="k34-10" href="#dl" x="552"/><use id="k34-11" href="#ll" x="604"/><use id="k34-12" href="#ll" x="656"/><use id="k34-13" href="#dl" x="708"/><use id="k34-14" href="#dl" x="760"/><use id="k34-15" href="#dl" x="812"/></g>
<g id="row35" transform="translate(0,1830)"><path class="ll" d="M26,0H66M830,0H869"/><text class="lb le" x="20" y="4.5">35</text><text class="lb" x="874" y="4.5">35</text><use id="k35-1" href="#dr" x="84"/><use id="k35-2" href="#dr" x="136"/><use id="k35-3" href="#dr" x="188"/><use id="k35-4" href="#dr" x="240"/><use id="k35-5" href="#dr" x="292"/><use id="k35-6" href="#dr" x="344"/><use id="k35-7" href="#dr" x="396"/><use id="k35-8" href="#dr" x="448"/><use id="k35-9" href="#dr" x="500"/><use id="k35-10" href="#dr" x="552"/><use id="k35-11" href="#dr" x="604"/><use id="k35-12" href="#dr" x="656"/><use id="k35-13" href="#dr" x="708"/><use id="k35-14" href="#dr" x="760"/><use id="k35-15" href="#dr" x="812"/></g>
<g id="row36" transform="translate(0,1882)"><path class="ll" d="M26,0H66M830,0H869"/><text class="lb le" x="20" y="4.5">36</text><text class="lb" x="874" y="4.5">36</text><use id="k36-1" href="#dl" x="84"/><use id="k36-2" href="#dl" x="136"/><use id="k36-3" href="#dl" x="188"/><use id="k36-4" href="#dl" x="240"/><use id="k36-5" href="#dl" x="292"/><use id="k36-6" href="#dl" x="344"/><use id="k36-7" href="#dl" x="396"/><use id="k36-8" href="#dl" x="448"/><use id="k36-9" href="#ll" x="500"/><use id="k36-10" href="#ll" x="552"/><use id="k36-11" href="#ll" x="604"/><use id="k36-12" href="#ll" x="656"/><use id="k36-13" href="#dl" x="708"/><use id="k36-14" href="#dl" x="760"/><use id="k36-15" href="#dl" x="812"/></g>
<g id="row37" transform="translate(0,1934)"><path class="ll" d="M26,0H66M830,0H869"/><text class="lb le" x="20" y="4.5">37</text><text class="lb" x="874" y="4.5">37</text><use id="k37-1" href="#dr" x="84"/><use id="k37-2" href="#dr" x="136"/><use id="k37-3" href="#dr" x="188"/><use id="k37-4" href="#dr" x="240"/><use id="k37-5" href="#dr" x="292"/><use id="k37-6" href="#dr" x="344"/><use id="k37-7" href="#dr" x="396"/><use id="k37-8" href="#lr" x="448"/><use id="k37-9" href="#dr" x="500"/><use id="k37-10" href="#dr" x="552"/><use id="k37-11" href="#dr" x="604"/><use id="k37-12" href="#dr" x="656"/><use id="k37-13" href="#dr" x="708"/><use id="k37-14" href="#dr" x="760"/><use id="k37-15" href="#dr" x="812"/></g>
<g id="row38" transform="translate(0,1986)"><path class="ll" d="M26,0H66M830,0H869"/><text class="lb le" x="20" y="4.5">38</text><text class="lb" x="874" y="4.5">38</text><use id="k38-1" href="#dl" x="84"/><use id="k38-2" href="#dl" x="136"/><use id="k38-3" href="#dl" x="188"/><use id="k38-4" href="#dl" x="240"/><use id="k38-5" href="#dl" x="292"/><use id="k38-6" href="#dl" x="344"/><use id="k38-7" href="#ll" x="396"/><use id="k38-8" href="#dl" x="448"/><use id="k38-9" href="#dl" x="500"/><use id="k38-10" href="#dl" x="552"/><use id="k38-11" href="#dl" x="604"/><use id="k38-12" href="#dl" x="656"/><use id="k38-13" href="#dl" x="708"/><use id="k38-14" href="#dl" x="760"/><use id="k38-15" href="#dl" x="812"/></g>
<g id="row39" transform="translate(0,2038)"><path class="ll" d="M26,0H66M830,0H869"/><text class="lb le" x="20" y="4.5">39</text><text class="lb" x="874" y="4.5">39</text><use id="k39-1" href="#dr" x="84"/><use id="k39-2" href="#dr" x="136"/><use id="k39-3" href="#dr" x="188"/><use id="k39-4" href="#dr" x="240"/><use id="k39-5" href="#dr" x="292"/><use id="k39-6" href="#lr" x="344"/><use id="k39-7" href="#dr" x="396"/><use id="k39-8" href="#dr" x="448"/><use id="k39-9" href="#dr" x="500"/><use id="k39-10" href="#dr" x="552"/><use id="k39-11" href="#dr" x="604"/><use id="k39-12" href="#dr" x="656"/><use id="k39-13" href="#dr" x="708"/><use id="k39-14" href="#dr" x="760"/><use id="k39-15" href="#dr" x="812"/></g>
<g id="row40" transform="translate(0,2090)"><path class="ll" d="M26,0H66M830,0H869"/><text class="lb le" x="20" y="4.5">40</text><text class="lb" x="874" y="4.5">40</text><use id="k40-1" href="#dl" x="84"/><use id="k40-2" href="#dl" x="136"/><use id="k40-3" href="#dl" x="188"/><use id="k40-4" href="#dl" x="240"/><use id="k40-5" href="#dl" x="292"/><use id="k40-6" href="#dl" x="344"/><use id="k40-7" href="#ll" x="396"/><use id="k40-8" href="#dl" x="448"/><use id="k40-9" href="#dl" x="500"/><use id="k40-10" href="#dl" x="552"/><use id="k40-11" href="#dl" x="604"/><use id="k40-12" href="#dl" x="656"/><use id="k40-13" href="#dl" x="708"/><use id="k40-14" href="#dl" x="760"/><use id="k40-15" href="#dl" x="812"/></g>
<g id="row41" transform="translate(0,2142)"><path class="ll" d="M26,0H66M830,0H869"/><text class="lb le" x="20" y="4.5">41</text><text class="lb" x="874" y="4.5">41</text><use id="k41-1" href="#dr" x="84"/><use id="k41-2" href="#dr" x="136"/><use id="k41-3" href="#dr" x="188"/><use id="k41-4" href="#dr" x="240"/><use id="k41-5" href="#dr" x="292"/><use id="k41-6" href="#dr" x="344"/><use id="k41-7" href="#dr" x="396"/><use id="k41-8" href="#lr" x="448"/><use id="k41-9" href="#dr" x="500"/><use id="k41-10" href="#dr" x="552"/><use id="k41-11" href="#dr" x="604"/><use id="k41-12" href="#dr" x="656"/><use id="k41-13" href="#dr" x="708"/><use id="k41-14" href="#dr" x="760"/><use id="k41-15" href="#dr" x="812"/></g>
<g id="row42" transform="translate(0,2194)"><path class="ll" d="M26,0H66M830,0H869"/><text class="lb le" x="20" y="4.5">42</text><text class="lb" x="874" y="4.5">42</text><use id="k42-1" href="#dl" x="84"/><use id="k42-2" href="#dl" x="136"/><use id="k42-3" href="#dl" x="188"/><use id="k42-4" href="#dl" x="240"/><use id="k42-5" href="#dl" x="292"/><use id="k42-6" href="#dl" x="344"/><use id="k42-7" href="#dl" x="396"/><use id="k42-8" href="#dl" x="448"/><use id="k42-9" href="#ll" x="500"/><use id="k42-10" href="#ll" x="552"/><use id="k42-11" href="#ll" x="604"/><use id="k42-12" href="#ll" x="656"/><use id="k42-13" href="#dl" x="708"/><use id="k42-14" href="#dl" x="760"/><use id="k42-15" href="#dl" x="812"/></g>
<g id="row43" transform="translate(0,2246)"><path class="ll" d="M26,0H66M830,0H869"/><text class="lb le" x="20" y="4.5">43</text><text class="lb" x="874" y="4.5">43</text><use id="k43-1" href="#dr" x="84"/><use id="k43-2" href="#dr" x="136"/><use id="k43-3" href="#dr" x="188"/><use id="k43-4" href="#dr" x="240"/><use id="k43-5" href="#dr" x="292"/><use id="k43-6" href="#dr" x="344"/><use id="k43-7" href="#dr" x="396"/><use id="k43-8" href="#dr" x="448"/><use id="k43-9" href="#dr" x="500"/><use id="k43-10" href="#dr" x="552"/><use id="k43-11" href="#dr" x="604"/><use id="k43-12" href="#dr" x="656"/><use id="k43-13" href="#dr" x="708"/><use id="k43-14" href="#dr" x="760"/><use id="k43-15" href="#dr" x="812"/></g>
<g id="row44" transform="translate(0,2298)"><path class="ll" d="M26,0H66M830,0H869"/><text class="lb le" x="20" y="4.5">44</text><text class="lb" x="874" y="4.5">44</text><use id="k44-1" href="#dl" x="84"/><use id="k44-2" href="#dl" x="136"/><use id="k44-3" href="#dl" x="188"/><use id="k44-4" href="#dl" x="240"/><use id="k44-5" href="#dl" x="292"/><use id="k44-6" href="#dl" x="344"/><use id="k44-7" href="#ll" x="396"/><use id="k44-8" href="#ll" x="448"/><use id="k44-9" href="#ll" x="500"/><use id="k44-10" href="#ll" x="552"/><use id="k44-11" href="#ll" x="604"/><use id="k44-12" href="#dl" x="656"/><use id="k44-13" href="#dl" x="708"/><use id="k44-14" href="#dl" x="760"/><use id="k44-15" href="#dl" x="812"/></g>
<g id="row45" transform="translate(0,2350)"><path class="ll" d="M26,0H66M830,0H869"/><text class="lb le" x="20" y="4.5">45</text><text class="lb" x="874" y="4.5">45</text><use id="k45-1" href="#dr" x="84"/><use id="k45-2" href="#dr" x="136"/><use id="k45-3" href="#dr" x="188"/><use id="k45-4" href="#dr" x="240"/><use id="k45-5" href="#dr" x="292"/><use id="k45-6" href="#lr" x="344"/><use id="k45-7" href="#dr" x="396"/><use id="k45-8" href="#dr" x="448"/><use id="k45-9" href="#dr" x="500"/><use id="k45-10" href="#dr" x="552"/><use id="k45-11" href="#dr" x="604"/><use id="k45-12" href="#lr" x="656"/><use id="k45-13" href="#dr" x="708"/><use id="k45-14" href="#dr" x="760"/><use id="k45-15" href="#dr" x="812"/></g>
<g id="row46" transform="translate(0,2402)"><path class="ll" d="M26,0H66M830,0H869"/><text class="lb le" x="20" y="4.5">46</text><text class="lb" x="874" y="4.5">46</text><use id="k46-1" href="#dl" x="84"/><use id="k46-2" href="#dl" x="136"/><use id="k46-3" href="#dl" x="188"/><use id="k46-4" href="#dl" x="240"/><use id="k46-5" href="#dl" x="292"/><use id="k46-6" href="#ll" x="344"/><use id="k46-7" href="#dl" x="396"/><use id="k46-8" href="#dl" x="448"/><use id="k46-9" href="#dl" x="500"/><use id="k46-10" href="#dl" x="552"/><use id="k46-11" href="#dl" x="604"/><use id="k46-12" href="#ll" x="656"/><use id="k46-13" href="#dl" x="708"/><use id="k46-14" href="#dl" x="760"/><use id="k46-15" href="#dl" x="812"/></g>
<g id="row47" transform="translate(0,2454)"><path class="ll" d="M26,0H66M830,0H869"/><text class="lb le" x="20" y="4.5">47</text><text class="lb" x="874" y="4.5">47</text><use id="k47-1" href="#dr" x="84"/><use id="k47-2" href="#dr" x="136"/><use id="k47-3" href="#dr" x="188"/><use id="k47-4" href="#dr" x="240"/><use id="k47-5" href="#dr" x="292"/><use id="k47-6" href="#lr" x="344"/><use id="k47-7" href="#dr" x="396"/><use id="k47-8" href="#dr" x="448"/><use id="k47-9" href="#dr" x="500"/><use id="k47-10" href="#dr" x="552"/><use id="k47-11" href="#dr" x="604"/><use id="k47-12" href="#lr" x="656"/><use id="k47-13" href="#dr" x="708"/><use id="k47-14" href="#dr" x="760"/><use id="k47-15" href="#dr" x="812"/></g>
<g id="row48" transform="translate(0,2506)"><path class="ll" d="M26,0H66M830,0H869"/><text class="lb le" x="20" y="4.5">48</text><text class="lb" x="874" y="4.5">48</text><use id="k48-1" href="#dl" x="84"/><use id="k48-2" href="#dl" x="136"/><use id="k48-3" href="#dl" x="188"/><use id="k48-4" href="#dl" x="240"/><use id="k48-5" href="#dl" x="292"/><use id="k48-6" href="#dl" x="344"/><use id="k48-7" href="#ll" x="396"/><use id="k48-8" href="#ll" x="448"/><use id="k48-9" href="#ll" x="500"/><use id="k48-10" href="#ll" x="552"/><use id="k48-11" href="#ll" x="604"/><use id="k48-12" href="#dl" x="656"/><use id="k48-13" href="#dl" x="708"/><use id="k48-14" href="#dl" x="760"/><use id="k48-15" href="#dl" x="812"/></g>
<g id="row49" transform="translate(0,2558)"><path class="ll" d="M26,0H66M830,0H869"/><text class="lb le" x="20" y="4.5">49</text><text class="lb" x="874" y="4.5">49</text><use id="k49-1" href="#dr" x="84"/><use id="k49-2" href="#dr" x="136"/><use id="k49-3" href="#dr" x="188"/><use id="k49-4" href="#dr" x="240"/><use id="k49-5" href="#dr" x="292"/><use id="k49-6" href="#dr" x="344"/><use id="k49-7" href="#dr" x="396"/><use id="k49-8" href="#dr" x="448"/><use id="k49-9" href="#dr" x="500"/><use id="k49-10" href="#dr" x="552"/><use id="k49-11" href="#dr" x="604"/><use id="k49-12" href="#dr" x="656"/><use id="k49-13" href="#dr" x="708"/><use id="k49-14" href="#dr" x="760"/><use id="k49-15" href="#dr" x="812"/></g>
<g id="row50" transform="translate(0,2610)"><path class="ll" d="M26,0H66M830,0H869"/><text class="lb le" x="20" y="4.5">50</text><text class="lb" x="874" y="4.5">50</text><use id="k50-1" href="#dl" x="84"/><use id="k50-2" href="#dl" x="136"/><use id="k50-3" href="#dl" x="188"/><use id="k50-4" href="#dl" x="240"/><use id="k50-5" href="#dl" x="292"/><use id="k50-6" href="#ll" x="344"/><use id="k50-7" href="#ll" x="396"/><use id="k50-8" href="#ll" x="448"/><use id="k50-9" href="#ll" x="500"/><use id="k50-10" href="#ll" x="552"/><use id="k50-11" href="#ll" x="604"/><use id="k50-12" href="#ll" x="656"/><use id="k50-13" href="#dl" x="708"/><use id="k50-14" href="#dl" x="760"/><use id="k50-15" href="#dl" x="812"/></g>
<g id="row51" transform="translate(0,2662)"><path class="ll" d="M26,0H66M830,0H869"/><text class="lb le" x="20" y="4.5">51</text><text class="lb" x="874" y="4.5">51</text><use id="k51-1" href="#dr" x="84"/><use id="k51-2" href="#dr" x="136"/><use id="k51-3" href="#dr" x="188"/><use id="k51-4" href="#dr" x="240"/><use id="k51-5" href="#dr" x="292"/><use id="k51-6" href="#dr" x="344"/><use id="k51-7" href="#dr" x="396"/><use id="k51-8" href="#dr" x="448"/><use id="k51-9" href="#lr" x="500"/><use id="k51-10" href="#dr" x="552"/><use id="k51-11" href="#dr" x="604"/><use id="k51-12" href="#lr" x="656"/><use id="k51-13" href="#dr" x="708"/><use id="k51-14" href="#dr" x="760"/><use id="k51-15" href="#dr" x="812"/></g>
<g id="row52" transform="translate(0,2714)"><path class="ll" d="M26,0H66M830,0H869"/><text class="lb le" x="20" y="4.5">52</text><text class="lb" x="874" y="4.5">52</text><use id="k52-1" href="#dl" x="84"/><use id="k52-2" href="#dl" x="136"/><use id="k52-3" href="#dl" x="188"/><use id="k52-4" href="#dl" x="240"/><use id="k52-5" href="#dl" x="292"/><use id="k52-6" href="#dl" x="344"/><use id="k52-7" href="#dl" x="396"/><use id="k52-8" href="#ll" x="448"/><use id="k52-9" href="#ll" x="500"/><use id="k52-10" href="#dl" x="552"/><use id="k52-11" href="#dl" x="604"/><use id="k52-12" href="#ll" x="656"/><use id="k52-13" href="#dl" x="708"/><use id="k52-14" href="#dl" x="760"/><use id="k52-15" href="#dl" x="812"/></g>
<g id="row53" transform="translate(0,2766)"><path class="ll" d="M26,0H66M830,0H869"/><text class="lb le" x="20" y="4.5">53</text><text class="lb" x="874" y="4.5">53</text><use id="k53-1" href="#dr" x="84"/><use id="k53-2" href="#dr" x="136"/><use id="k53-3" href="#dr" x="188"/><use id="k53-4" href="#dr" x="240"/><use id="k53-5" href="#dr" x="292"/><use id="k53-6" href="#dr" x="344"/><use id="k53-7" href="#lr" x="396"/><use id="k53-8" href="#dr" x="448"/><use id="k53-9" href="#dr" x="500"/><use id="k53-10" href="#lr" x="552"/><use id="k53-11" href="#lr" x="604"/><use id="k53-12" href="#dr" x="656"/><use id="k53-13" href="#dr" x="708"/><use id="k53-14" href="#dr" x="760"/><use id="k53-15" href="#dr" x="812"/></g>
<g id="row54" transform="translate(0,2818)"><path class="ll" d="M830,0H869"/><text class="lb le" x="20" y="4.5">54</text><text class="lb" x="874" y="4.5">54</text><use id="k54-1" href="#dl" x="84"/><use id="k54-2" href="#dl" x="136"/><use id="k54-3" href="#dl" x="188"/><use id="k54-4" href="#dl" x="240"/><use id="k54-5" href="#dl" x="292"/><use id="k54-6" href="#ll" x="344"/><use id="k54-7" href="#dl" x="396"/><use id="k54-8" href="#dl" x="448"/><use id="k54-9" href="#dl" x="500"/><use id="k54-10" href="#dl" x="552"/><use id="k54-11" href="#dl" x="604"/><use id="k54-12" href="#dl" x="656"/><use id="k54-13" href="#dl" x="708"/><use id="k54-14" href="#dl" x="760"/><use id="k54-15" href="#dl" x="812"/></g>
<g id="row55" transform="translate(0,2870)"><path class="ll" d="M26,0H66"/><text class="lb le" x="20" y="4.5">55</text><text class="lb" x="874" y="4.5">55</text><use id="k55-1" href="#dr" x="84"/><use id="k55-2" href="#dr" x="136"/><use id="k55-3" href="#dr" x="188"/><use id="k55-4" href="#dr" x="240"/><use id="k55-5" href="#dr" x="292"/><use id="k55-6" href="#dr" x="344"/><use id="k55-7" href="#dr" x="396"/><use id="k55-8" href="#dr" x="448"/><use id="k55-9" href="#dr" x="500"/><use id="k55-10" href="#dr" x="552"/><use id="k55-11" href="#dr" x="604"/><use id="k55-12" href="#dr" x="656"/><use id="k55-13" href="#dr" x="708"/><use id="k55-14" href="#dr" x="760"/><use id="k55-15" href="#dr" x="812"/></g>
</g>
<text id="watermark" class="wm" x="448.5" y="1497">BRACELETBOOK.COM</text>
</svg>
